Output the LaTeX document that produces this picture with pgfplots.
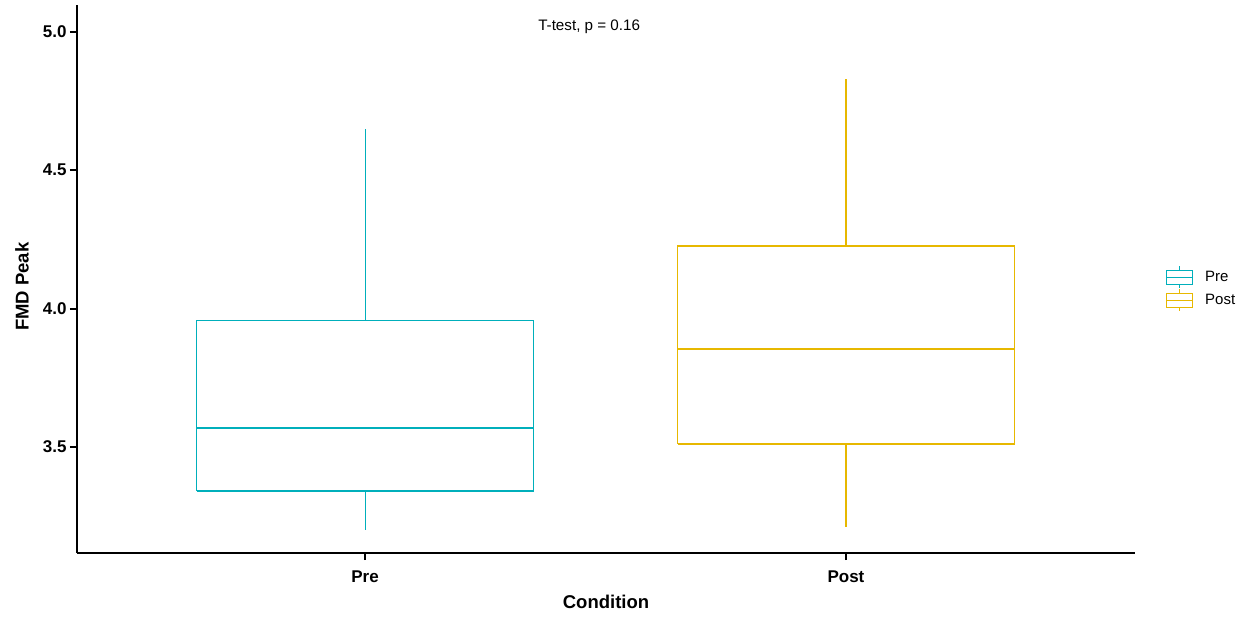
\documentclass[border=0pt]{standalone}
\usepackage{pgfplots}
\pgfplotsset{compat=1.18}
\usepackage{fontspec}
\setmainfont{Liberation Sans}
\definecolor{preC}{HTML}{00AFBB}
\definecolor{postC}{HTML}{E7B800}
\begin{document}
\begin{tikzpicture}
\useasboundingbox (0pt,0pt) rectangle (1250pt,619pt);
\begin{axis}[
  at={(77pt,66pt)}, anchor=south west,
  scale only axis, width=1058pt, height=548pt,
  xmin=0.401, xmax=2.601, ymin=3.117, ymax=5.097,
  axis x line=bottom, axis y line=left,
  axis line style={line width=2.3pt, -},
  xtick={1,2}, xticklabels={Pre,Post},
  ytick={3.5,4.0,4.5,5.0},
  yticklabel style={/pgf/number format/.cd, fixed, fixed zerofill, precision=1},
  /pgf/number format/assume math mode=true,
  tick align=outside, major tick length=7pt,
  tick style={line width=1.8pt, black},
  ticklabel style={font=\fontsize{17}{20}\selectfont\bfseries},
  xticklabel style={yshift=-7pt},
  xlabel={Condition}, ylabel={FMD Peak},
  xlabel style={font=\fontsize{18.5}{22}\selectfont\bfseries, at={(axis description cs:0.5,-0.089)}, anchor=center},
  ylabel style={font=\fontsize{18.5}{22}\selectfont\bfseries, at={(axis description cs:-0.052,0.486)}, anchor=center},
  legend style={draw=none, fill=none, at={(axis description cs:1.029,0.482)}, anchor=west,
    font=\fontsize{15}{18}\selectfont, row sep=0pt, inner sep=0pt,
    nodes={inner sep=2pt}},
  legend cell align=left,
  clip=false,
]
\addlegendimage{legend image code/.code={
  \draw[draw=preC,line width=1.3pt] (0pt,-7pt) rectangle (26pt,7pt);
  \draw[draw=preC,line width=1.3pt] (0pt,0pt)--(26pt,0pt);
  \draw[draw=preC,line width=1.1pt] (13pt,7pt)--(13pt,11pt);
  \draw[draw=preC,line width=1.1pt] (13pt,-7pt)--(13pt,-11pt);}}
\addlegendentry{\hspace{10pt}Pre}
\addlegendimage{legend image code/.code={
  \draw[draw=postC,line width=1.3pt] (0pt,-7pt) rectangle (26pt,7pt);
  \draw[draw=postC,line width=1.3pt] (0pt,0pt)--(26pt,0pt);
  \draw[draw=postC,line width=1.1pt] (13pt,7pt)--(13pt,11pt);
  \draw[draw=postC,line width=1.1pt] (13pt,-7pt)--(13pt,-11pt);}}
\addlegendentry{\hspace{10pt}Post}
% Pre: lower whisker 3.200, Q1 3.341, median 3.569, Q3 3.958, upper whisker 4.648
\addplot[preC, line width=1.3pt, forget plot] coordinates {(0.65,3.341) (1.35,3.341) (1.35,3.958) (0.65,3.958) (0.65,3.341)};
\addplot[preC, line width=2.3pt, forget plot] coordinates {(0.65,3.569) (1.35,3.569)};
\addplot[preC, line width=1.1pt, forget plot] coordinates {(1,3.958) (1,4.648)};
\addplot[preC, line width=1.1pt, forget plot] coordinates {(1,3.341) (1,3.200)};
% Post: lower whisker 3.211, Q1 3.511, median 3.854, Q3 4.226, upper whisker 4.828
\addplot[postC, line width=1.3pt, forget plot] coordinates {(1.65,3.511) (2.35,3.511) (2.35,4.226) (1.65,4.226) (1.65,3.511)};
\addplot[postC, line width=2.3pt, forget plot] coordinates {(1.65,3.854) (2.35,3.854)};
\addplot[postC, line width=1.1pt, forget plot] coordinates {(2,4.226) (2,4.828)};
\addplot[postC, line width=1.1pt, forget plot] coordinates {(2,3.511) (2,3.211)};
\node[font=\fontsize{15.2}{18}\selectfont, anchor=center] at (axis cs:1.466,5.018) {T-test, p = 0.16};
\end{axis}
\end{tikzpicture}
\end{document}
